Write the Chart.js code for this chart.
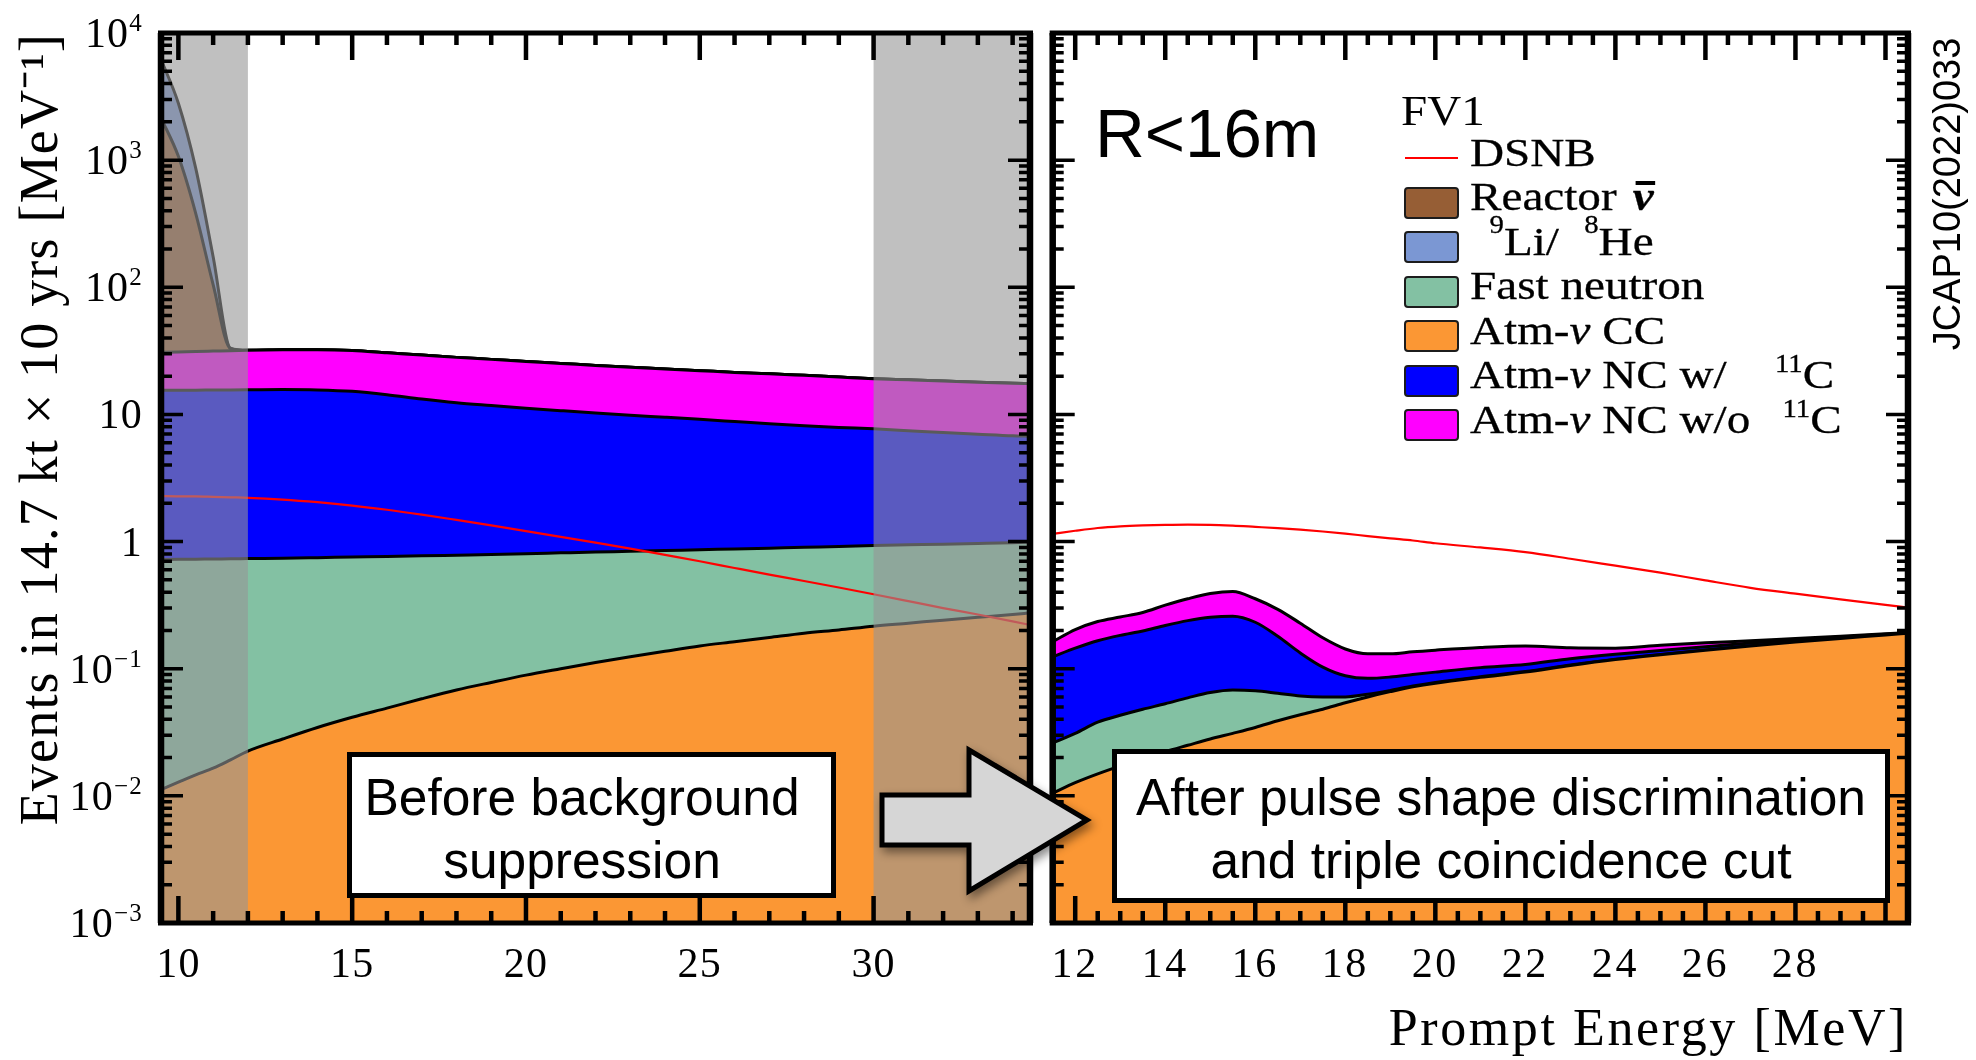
<!DOCTYPE html>
<html lang="en">
<head>
<meta charset="utf-8">
<title>DSNB signal and backgrounds, FV1 (R&lt;16m)</title>
<script src="https://cdn.jsdelivr.net/npm/chart.js@4.4.1/dist/chart.umd.min.js"></script>
<style>
html,body{margin:0;padding:0;background:#fff;}
#page{position:relative;width:1976px;height:1060px;overflow:hidden;background:#fff;}
#page canvas{position:absolute;top:0;}
#before{left:0;}
#after{left:1036px;}
.serif{font-family:'Liberation Serif','Times New Roman',Times,serif;color:#000;}
.sans{font-family:'Liberation Sans',Arial,Helvetica,sans-serif;color:#000;}
.lg{position:absolute;white-space:nowrap;}
.lg-head{left:1401px;top:88.6px;font-size:42px;line-height:44.5px;transform:scaleX(1.12);transform-origin:0 0;}
.lg-row{left:1404px;width:520px;height:44.5px;}
.lg-swatch{position:absolute;left:0;top:12.6px;width:55px;height:32px;box-sizing:border-box;border:2.5px solid #1c1c1c;border-radius:4px;}
.lg-line{position:absolute;left:1px;top:27.4px;width:53px;height:2px;}
.lg-text{position:absolute;left:66px;top:0;font-size:41px;line-height:44.5px;transform:scaleX(1.15);transform-origin:0 0;-webkit-text-stroke:0.3px #000;}
.sup{font-size:25px;position:relative;}
.nubar{position:relative;font-style:italic;font-weight:bold;margin-left:14px;}
.nubar::after{content:'';position:absolute;left:3px;right:-1px;top:8px;height:3.5px;background:#000;}
.note{position:absolute;box-sizing:border-box;border:5px solid #000;background:#fff;font-size:51.5px;line-height:63px;text-align:center;white-space:nowrap;}
#radius{position:absolute;left:1095px;top:98.6px;font-size:69px;line-height:69px;white-space:nowrap;}
#ref{position:absolute;left:1747px;top:171px;width:400px;height:46px;line-height:46px;font-size:38px;text-align:center;transform:rotate(-90deg);white-space:nowrap;}
#arrow{position:absolute;left:0;top:0;pointer-events:none;}
</style>
</head>
<body>
<div id="page">
  <canvas id="before" width="1036" height="1060"></canvas>
  <canvas id="after" width="940" height="1060"></canvas>
  <div id="legend" class="serif"></div>
  <div id="radius" class="sans">R&lt;16m</div>
  <div id="ref" class="sans">JCAP10(2022)033</div>
  <div class="note sans" style="left:347px;top:752px;width:489px;height:146px;padding:8.6px 19px 0 0;">Before background<br>suppression</div>
  <svg id="arrow" width="1976" height="1060" viewBox="0 0 1976 1060">
    <defs>
      <filter id="soft" x="-30%" y="-30%" width="170%" height="170%">
        <feDropShadow dx="3" dy="5" stdDeviation="5" flood-color="#000" flood-opacity="0.45"/>
      </filter>
    </defs>
    <path d="M882,795 L969,795 L969,750 L1087,820 L969,891 L969,845 L882,845 Z" fill="#d6d6d6" stroke="#000" stroke-width="5" stroke-linejoin="miter" filter="url(#soft)"/>
  </svg>
  <div class="note sans" style="left:1112px;top:749px;width:778px;height:154px;padding:11.6px 0 0 0;">After pulse shape discrimination<br>and triple coincidence cut</div>
</div>
<script>
// ---- series: 0 DSNB, 1 reactor, 2 9Li/8He, 3 fast neutron, 4 atm CC, 5 atm NC w/ 11C, 6 atm NC w/o 11C
const seriesNames = ['DSNB', 'Reactor \u03BD\u0304', '\u2079Li/\u2078He', 'Fast neutron', 'Atm-\u03BD CC', 'Atm-\u03BD NC w/ \u00B9\u00B9C', 'Atm-\u03BD NC w/o \u00B9\u00B9C'];
const seriesColors = ['#ff0000', '#965e35', '#7b97d3', '#83c1a3', '#fb9734', '#0000ff', '#ff00ff'];

// ---- before background suppression (events / MeV, per component)
const energyBefore = [9.5, 10, 10.5, 11, 11.5, 12, 13, 14, 15, 16, 17, 18, 19, 20, 21, 22, 23, 24, 25, 26, 27, 28, 29, 30, 31, 32, 33, 34, 34.5];
const dsnbBefore = [2.28, 2.27, 2.27, 2.25, 2.23, 2.21, 2.14, 2.04, 1.92, 1.78, 1.63, 1.48, 1.34, 1.21, 1.09, 0.98, 0.88, 0.785, 0.70, 0.62, 0.55, 0.49, 0.435, 0.385, 0.34, 0.30, 0.267, 0.236, 0.221];
const atmCCBefore = [0.0112, 0.0128, 0.0146, 0.0165, 0.0192, 0.0225, 0.028, 0.0345, 0.0415, 0.049, 0.058, 0.068, 0.078, 0.089, 0.1, 0.112, 0.124, 0.137, 0.151, 0.163, 0.176, 0.19, 0.202, 0.216, 0.228, 0.241, 0.254, 0.267, 0.275];
const fastNeutronBefore = [0.713, 0.712, 0.712, 0.713, 0.712, 0.712, 0.712, 0.713, 0.714, 0.714, 0.714, 0.714, 0.714, 0.714, 0.715, 0.715, 0.714, 0.713, 0.712, 0.712, 0.712, 0.712, 0.712, 0.714, 0.714, 0.713, 0.713, 0.714, 0.715];
const atmNCwBefore = [14.78, 14.78, 14.79, 14.82, 14.84, 14.87, 14.96, 14.85, 14.45, 13.54, 12.43, 11.57, 10.96, 10.4, 9.89, 9.42, 9.01, 8.65, 8.29, 7.92, 7.56, 7.25, 6.99, 6.77, 6.51, 6.25, 6.03, 5.82, 5.76];
const atmNCwoBefore = [15.3, 15.5, 15.8, 15.95, 16.1, 16.3, 16.5, 16.7, 16.6, 16.2, 16.1, 15.75, 15.35, 14.9, 14.5, 14.05, 13.65, 13.3, 12.95, 12.6, 12.45, 12.15, 11.8, 11.4, 11.25, 11.1, 10.9, 10.8, 10.75];
// reactor and 9Li/8He vanish above ~11.5 MeV (kept at a negligible level on the log axis)
const reactorBefore = [2120, 1040, 349, 73.5, 1.2, 1e-4, 1e-4, 1e-4, 1e-4, 1e-4, 1e-4, 1e-4, 1e-4, 1e-4, 1e-4, 1e-4, 1e-4, 1e-4, 1e-4, 1e-4, 1e-4, 1e-4, 1e-4, 1e-4, 1e-4, 1e-4, 1e-4, 1e-4, 1e-4];
const liHeBefore = [4050, 1730, 480, 69, 0.3, 1e-4, 1e-4, 1e-4, 1e-4, 1e-4, 1e-4, 1e-4, 1e-4, 1e-4, 1e-4, 1e-4, 1e-4, 1e-4, 1e-4, 1e-4, 1e-4, 1e-4, 1e-4, 1e-4, 1e-4, 1e-4, 1e-4, 1e-4, 1e-4];

// ---- after PSD and triple coincidence cut
const energyAfter = [11.5, 12, 12.5, 13, 13.5, 14, 14.5, 15, 15.5, 16, 16.5, 17, 17.5, 18, 18.5, 19, 19.5, 20, 21, 22, 23, 24, 25, 26, 27, 28, 29, 30, 30.5];
const dsnbAfter = [1.148, 1.216, 1.279, 1.318, 1.34, 1.352, 1.358, 1.355, 1.335, 1.305, 1.275, 1.24, 1.20, 1.155, 1.105, 1.06, 1.02, 0.97, 0.899, 0.826, 0.733, 0.646, 0.569, 0.495, 0.433, 0.389, 0.351, 0.318, 0.303];
const atmCCAfter = [0.0105, 0.0127, 0.0149, 0.0172, 0.0197, 0.0223, 0.025, 0.028, 0.031, 0.0345, 0.039, 0.0435, 0.048, 0.054, 0.06, 0.066, 0.072, 0.077, 0.0855, 0.094, 0.106, 0.118, 0.129, 0.14, 0.151, 0.162, 0.173, 0.184, 0.19];
const fastNeutronAfter = [0.0155, 0.0183, 0.0231, 0.0258, 0.0283, 0.0307, 0.034, 0.037, 0.037, 0.0325, 0.025, 0.0175, 0.012, 0.006, 0.003, 0.0015, 0.001, 0.001, 0.001, 0.001, 0.0008, 0.0007, 0.0006, 0.0005, 0.0005, 0.0004, 0.0004, 0.0003, 0.0003];
const atmNCwAfter = [0.098, 0.114, 0.128, 0.14, 0.15, 0.166, 0.18, 0.189, 0.191, 0.165, 0.116, 0.072, 0.043, 0.028, 0.021, 0.0185, 0.017, 0.016, 0.0155, 0.013, 0.0132, 0.0113, 0.0094, 0.0085, 0.0075, 0.0066, 0.0046, 0.0027, 0.0012];
const atmNCwoAfter = [0.039, 0.058, 0.069, 0.072, 0.079, 0.097, 0.116, 0.136, 0.146, 0.123, 0.113, 0.095, 0.072, 0.055, 0.047, 0.045, 0.046, 0.046, 0.045, 0.043, 0.026, 0.015, 0.014, 0.011, 0.007, 0.004, 0.002, 0.001, 0.001];

// ---- axes
const xTicksBefore = [10, 15, 20, 25, 30];
const xTicksAfter = [12, 14, 16, 18, 20, 22, 24, 26, 28, 30];
const xLabelsAfter = ['12', '14', '16', '18', '20', '22', '24', '26', '28', ''];
const vetoBands = [[9.5, 12], [30, 34.5]];
const decadeValues = [1e-3, 1e-2, 1e-1, 1, 10, 1e2, 1e3, 1e4];
const decadeBases = ['10', '10', '10', '1', '10', '10', '10', '10'];
const decadeExps = ['\u22123', '\u22122', '\u22121', '', '', '2', '3', '4'];

const SERIF = "'Liberation Serif', 'Times New Roman', serif";
Chart.defaults.font.family = SERIF;
Chart.defaults.color = '#000';

const pts = (xs, ys) => xs.map((x, i) => ({x: x, y: ys[i]}));

function buildDatasets(energy, dsnb, layers) {
  const sets = [{
    label: seriesNames[0], data: pts(energy, dsnb), stack: 'signal',
    borderColor: seriesColors[0], borderWidth: 2.2, fill: false
  }];
  layers.forEach((layer, k) => sets.push({
    label: seriesNames[layer[0]], data: pts(energy, layer[1]), stack: 'background',
    borderColor: '#000', borderWidth: 3, backgroundColor: seriesColors[layer[0]],
    fill: k === 0 ? 'start' : '-1'
  }));
  return sets;
}

// canvas text spacing of the serif axis font
const spacing = {
  id: 'spacing',
  beforeDraw(chart, args, o) { chart.ctx.letterSpacing = o.value || '0px'; }
};

// ROOT-style frame: inward ticks on all four sides, shaded energy windows, decade labels
const rootFrame = {
  id: 'rootFrame',
  afterDatasetsDraw(chart, args, o) {
    const ctx = chart.ctx, a = chart.chartArea;
    const xs = chart.scales.x, ys = chart.scales.y;
    ctx.save();
    (o.bands || []).forEach(([lo, hi]) => {
      const x0 = xs.getPixelForValue(lo), x1 = xs.getPixelForValue(hi);
      ctx.fillStyle = o.bandColor;
      ctx.fillRect(x0, a.top, x1 - x0, a.bottom - a.top);
    });
    ctx.strokeStyle = '#000';
    ctx.lineWidth = 4.5;
    ctx.beginPath();
    const n0 = Math.ceil(xs.min / o.xMinorStep - 1e-9), n1 = Math.floor(xs.max / o.xMinorStep + 1e-9);
    for (let n = n0; n <= n1; n++) {
      const v = +(n * o.xMinorStep).toFixed(6);
      if (v <= xs.min || v >= xs.max) continue;
      const px = xs.getPixelForValue(v);
      const len = o.xMajor.includes(v) ? 27 : 12;
      ctx.moveTo(px, a.bottom); ctx.lineTo(px, a.bottom - len);
      ctx.moveTo(px, a.top); ctx.lineTo(px, a.top + len);
    }
    ctx.stroke();
    ctx.lineWidth = 3.5;
    ctx.beginPath();
    const k0 = Math.floor(Math.log10(ys.min)), k1 = Math.ceil(Math.log10(ys.max));
    for (let k = k0; k <= k1; k++) {
      for (let m = 1; m <= 9; m++) {
        const v = m * Math.pow(10, k);
        if (v <= ys.min * 1.0001 || v >= ys.max * 0.9999) continue;
        const py = ys.getPixelForValue(v);
        const len = m === 1 ? 22 : 11;
        ctx.moveTo(a.left, py); ctx.lineTo(a.left + len, py);
        ctx.moveTo(a.right, py); ctx.lineTo(a.right - len, py);
      }
    }
    ctx.stroke();
    ctx.lineWidth = 5;
    ctx.beginPath();
    ctx.moveTo(a.left - 3, a.top); ctx.lineTo(a.right + 3, a.top);
    ctx.moveTo(a.left - 3, a.bottom); ctx.lineTo(a.right + 3, a.bottom);
    ctx.stroke();
    ctx.lineWidth = 6.5;
    ctx.beginPath();
    ctx.moveTo(a.left, a.top); ctx.lineTo(a.left, a.bottom);
    ctx.moveTo(a.right, a.top); ctx.lineTo(a.right, a.bottom);
    ctx.stroke();
    if (o.yLabels) {
      ctx.fillStyle = '#000';
      ctx.textBaseline = 'alphabetic';
      ctx.textAlign = 'left';
      ys.ticks.forEach(t => {
        const i = decadeValues.findIndex(d => Math.abs(Math.log10(d) - Math.log10(t.value)) < 1e-6);
        if (i < 0) return;
        const py = ys.getPixelForValue(t.value);
        const base = decadeBases[i], exp = decadeExps[i];
        ctx.font = '42px ' + SERIF;
        const wb = ctx.measureText(base).width;
        ctx.font = '25px ' + SERIF;
        const we = exp ? ctx.measureText(exp).width : 0;
        const right = a.left - o.labelGap;
        const baseline = py + 14;
        ctx.font = '42px ' + SERIF;
        ctx.fillText(base, right - we - wb, baseline);
        if (exp) {
          ctx.font = '25px ' + SERIF;
          ctx.fillText(exp, right - we, baseline - 16);
        }
      });
    }
    ctx.restore();
  }
};

const yAxis = (show) => {
  const axis = {
    type: 'logarithmic', stacked: true, min: 1e-3, max: 1e4, display: show,
    afterBuildTicks: s => { s.ticks = decadeValues.map(v => ({value: v})); },
    ticks: {display: false},
    grid: {display: false, drawTicks: false},
    border: {display: false},
    title: {
      display: show, text: 'Events in 14.7 kt \u00D7 10 yrs [MeV\u207B\u00B9]', align: 'end',
      font: {size: 54, family: SERIF}, color: '#000', padding: {top: 10, bottom: 0}
    }
  };
  if (show) axis.afterFit = s => { s.width = 161; };
  return axis;
};

const common = {
  responsive: false, animation: false, devicePixelRatio: 1,
  elements: {point: {radius: 0, hoverRadius: 0}, line: {cubicInterpolationMode: 'monotone'}},
  events: []
};

new Chart(document.getElementById('before'), {
  type: 'line',
  data: {datasets: buildDatasets(energyBefore, dsnbBefore, [
    [4, atmCCBefore], [3, fastNeutronBefore], [5, atmNCwBefore], [6, atmNCwoBefore], [1, reactorBefore], [2, liHeBefore]
  ])},
  options: Object.assign({}, common, {
    layout: {padding: {top: 33, right: 6, left: 0, bottom: 0}},
    plugins: {
      legend: {display: false}, tooltip: {enabled: false},
      spacing: {value: '1.2px'},
      rootFrame: {bands: vetoBands, bandColor: 'rgba(150,150,150,0.6)', xMinorStep: 1, xMajor: xTicksBefore, yLabels: true, labelGap: 18}
    },
    scales: {
      x: {
        type: 'linear', min: 9.5, max: 34.5,
        afterBuildTicks: s => { s.ticks = xTicksBefore.map(v => ({value: v})); },
        ticks: {font: {size: 42, family: SERIF}, color: '#000', padding: 18, maxRotation: 0, autoSkip: false, callback: v => String(v)},
        grid: {display: false, drawTicks: false}, border: {display: false},
        afterFit: s => { s.height = 137; }
      },
      y: yAxis(true)
    }
  }),
  plugins: [spacing, rootFrame]
});

new Chart(document.getElementById('after'), {
  type: 'line',
  data: {datasets: buildDatasets(energyAfter, dsnbAfter, [
    [4, atmCCAfter], [3, fastNeutronAfter], [5, atmNCwAfter], [6, atmNCwoAfter]
  ])},
  options: Object.assign({}, common, {
    layout: {padding: {top: 33, right: 68, left: 8, bottom: 0}},
    plugins: {
      legend: {display: false}, tooltip: {enabled: false},
      spacing: {value: '2.6px'},
      rootFrame: {bands: [], xMinorStep: 0.5, xMajor: xTicksAfter, yLabels: false}
    },
    scales: {
      x: {
        type: 'linear', min: 11.5, max: 30.5,
        afterBuildTicks: s => { s.ticks = xTicksAfter.map(v => ({value: v})); },
        ticks: {font: {size: 42, family: SERIF}, color: '#000', padding: 18, maxRotation: 0, autoSkip: false,
          callback: (v, i) => xLabelsAfter[i]},
        grid: {display: false, drawTicks: false}, border: {display: false},
        title: {display: true, text: 'Prompt Energy [MeV]', align: 'end', color: '#000',
          font: {size: 52, family: SERIF, lineHeight: 1.1}, padding: {top: 0, bottom: 0}},
        afterFit: s => { s.height = 137; }
      },
      y: yAxis(false)
    }
  }),
  plugins: [spacing, rootFrame]
});

// ---- legend (FV1), built from the series list
const legendOrder = [0, 1, 2, 3, 4, 5, 6];
const legendMarkup = {
  0: 'DSNB',
  1: 'Reactor<span class="nubar">\u03BD</span>',
  2: '<span class="sup" style="margin-left:17px;top:-22px">9</span>Li/<span class="sup" style="margin-left:22px;top:-22px">8</span>He',
  3: 'Fast neutron',
  4: 'Atm-<i>\u03BD</i> CC',
  5: 'Atm-<i>\u03BD</i> NC w/<span class="sup" style="margin-left:42px;top:-16px">11</span>C',
  6: 'Atm-<i>\u03BD</i> NC w/o<span class="sup" style="margin-left:28px;top:-16px">11</span>C'
};
const legend = document.getElementById('legend');
const head = document.createElement('div');
head.className = 'lg lg-head';
head.textContent = 'FV1';
legend.appendChild(head);
legendOrder.forEach((s, r) => {
  const row = document.createElement('div');
  row.className = 'lg lg-row';
  row.style.top = (166 + 44.5 * r - 36.1) + 'px';
  row.title = seriesNames[s];
  const mark = document.createElement('div');
  mark.className = s === 0 ? 'lg-line' : 'lg-swatch';
  mark.style.background = seriesColors[s];
  row.appendChild(mark);
  const txt = document.createElement('div');
  txt.className = 'lg-text';
  txt.innerHTML = legendMarkup[s];
  row.appendChild(txt);
  legend.appendChild(row);
});
</script>
</body>
</html>
